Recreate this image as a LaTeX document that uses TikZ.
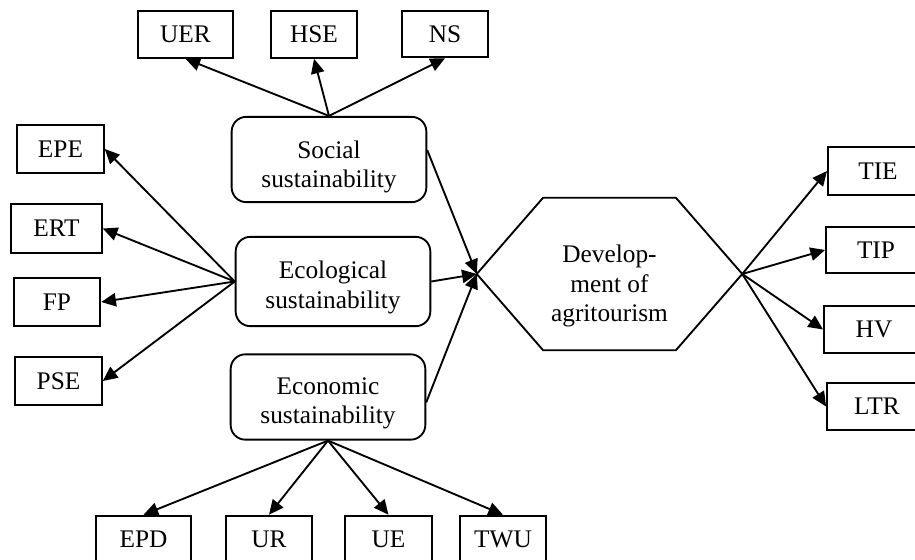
\documentclass[tikz,border=0pt]{standalone}
\usepackage{fontspec}
\setmainfont{Liberation Serif}
\usetikzlibrary{positioning, calc, arrows.meta}

\begin{document}
\begin{tikzpicture}[x=0.75pt, y=-0.75pt,
    every node/.style={font=\fontsize{19}{22}\selectfont},
    leaf/.style={draw, line width=1.4pt, minimum width=65pt, minimum height=35pt, inner sep=0pt},
    pillar/.style={draw, line width=1.4pt, rounded corners=11pt, align=center, minimum width=146pt, minimum height=64pt, inner sep=0pt},
    arr/.style={-{Triangle[length=11pt, width=10pt]}, line width=1.4pt}]
    \useasboundingbox (0,0) rectangle (915,560);
    % three pillars
    \node[pillar] (soc) at (329,159.5) {\rule{0pt}{24pt}Social\\sustainability};
    \node[pillar, minimum height=67pt] (ecol) at (333,281.5) {\rule{0pt}{22pt}Ecological\\sustainability};
    \node[pillar] (econ) at (328,397) {\rule{0pt}{22pt}Economic\\sustainability};
    % hexagon
    \node[minimum width=198.75pt, minimum height=114pt, inner sep=0pt] (dev) at (609.5,274) {};
    \draw[line width=1.4pt] (dev.west) -- ($(dev.north west)!0.25!(dev.north east)$)
        -- ($(dev.north west)!0.75!(dev.north east)$) -- (dev.east)
        -- ($(dev.south west)!0.75!(dev.south east)$)
        -- ($(dev.south west)!0.25!(dev.south east)$) -- cycle;
    \node[align=center, inner sep=0pt] (devlabel) at ([yshift=-9pt]dev.center) {Develop-\\ment of\\agritourism};
    % social indicators
    \node[leaf, minimum width=71pt] (UER) at (185.5,34.5) {UER};
    \node[leaf] (HSE) at (314,34.5) {HSE};
    \node[leaf] (NS) at (445,34) {NS};
    % ecological indicators
    \node[leaf, minimum height=36pt] (EPE) at (60.5,149) {EPE};
    \node[leaf, minimum width=68pt, minimum height=36.5pt] (ERT) at (56.5,228.5) {ERT};
    \node[leaf, minimum height=36pt] (FP) at (57,302) {FP};
    \node[leaf, minimum height=36pt] (PSE) at (58.5,381) {PSE};
    % economic indicators
    \node[leaf, minimum width=71pt] (EPD) at (143.5,539) {EPD};
    \node[leaf] (UR) at (269,539) {UR};
    \node[leaf] (UE) at (388.5,539) {UE};
    \node[leaf] (TWU) at (503,539) {TWU};
    % outcome indicators
    \node[leaf, minimum width=75pt, minimum height=36pt] (TIE) at (878,171) {TIE};
    \node[leaf, minimum width=75pt] (TIP) at (876,250) {TIP};
    \node[leaf, minimum width=75pt] (HV) at (874,329.5) {HV};
    \node[leaf, minimum width=75pt] (LTR) at (877,406.5) {LTR};
    % arrows
    \foreach \t in {UER, HSE, NS}
        \draw[arr] (soc.north) -- (\t.south);
    \foreach \t in {EPE, ERT, FP, PSE}
        \draw[arr] (ecol.west) -- (\t.east);
    \foreach \t in {EPD, UR, UE, TWU}
        \draw[arr] (econ.south) -- (\t.north);
    \foreach \t in {TIE, TIP, HV, LTR}
        \draw[arr] (dev.east) -- (\t.west);
    \draw[arr] ([yshift=7pt]soc.east) -- (dev.west);
    \draw[arr] (ecol.east) -- (dev.west);
    \draw[arr] ([yshift=-4pt]econ.east) -- (dev.west);
\end{tikzpicture}
\end{document}
